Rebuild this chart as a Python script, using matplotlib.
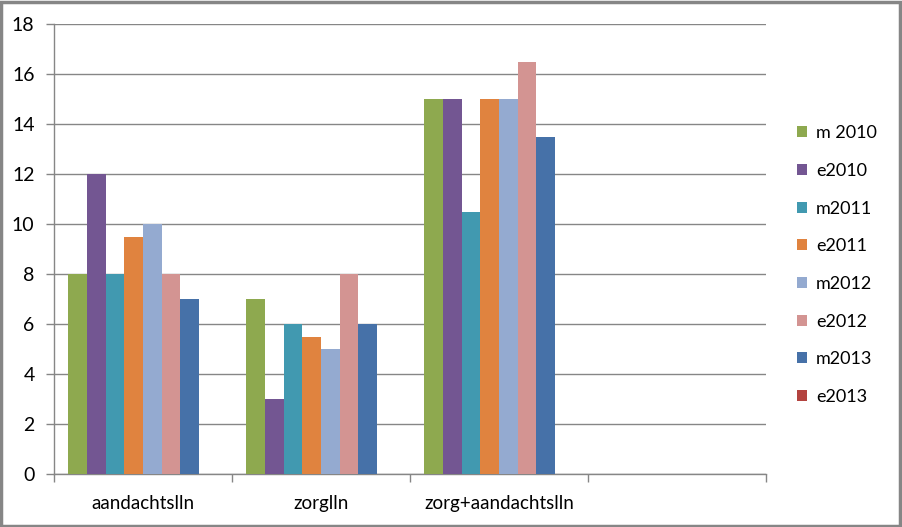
import matplotlib
matplotlib.use("Agg")
import matplotlib.pyplot as plt
import numpy as np
from matplotlib.patches import Rectangle

# categories (the fourth one is empty in the source chart)
categories = ["aandachtslln", "zorglln", "zorg+aandachtslln", ""]
series = ["m 2010", "e2010", "m2011", "e2011", "m2012", "e2012", "m2013", "e2013"]
colors = ["#8EA94F", "#735692", "#4199B0", "#E0833F", "#94AAD0", "#D39492", "#4671A8", "#B3433F"]

m2010 = [8, 7, 15, 0]
e2010 = [12, 3, 15, 0]
m2011 = [8, 6, 10.5, 0]
e2011 = [9.5, 5.5, 15, 0]
m2012 = [10, 5, 15, 0]
e2012 = [8, 8, 16.5, 0]
m2013 = [7, 6, 13.5, 0]
e2013 = [0, 0, 0, 0]
values = [m2010, e2010, m2011, e2011, m2012, e2012, m2013, e2013]

plt.rcParams["font.family"] = ["Lato", "DejaVu Sans"]
grey = "#868686"

fig = plt.figure(figsize=(9.02, 5.27), dpi=100)
ax = fig.add_axes([54 / 902, 1 - 474 / 527, (766 - 54) / 902, (474 - 24) / 527])

x = np.arange(len(categories))
n = len(series)
w = 1 / (n + 1.5)
for i, (name, vals, col) in enumerate(zip(series, values, colors)):
    ax.bar(x - n * w / 2 + (i + 0.5) * w, vals, width=w, color=col, label=name, zorder=3)

ax.set_xlim(-0.5, len(categories) - 0.5)
ax.set_ylim(0, 18)
ax.set_yticks(range(0, 19, 2))
ax.yaxis.grid(True, color=grey, linewidth=1, zorder=0)

ax.set_xticks(x)
ax.set_xticklabels(categories)
ax.set_xticks(np.arange(-0.5, len(categories)), minor=True)
ax.tick_params(axis="x", which="major", length=0, pad=15, labelsize=13.5)
ax.tick_params(axis="x", which="minor", length=6, color=grey, width=1)
ax.tick_params(axis="y", length=6, color=grey, width=1, labelsize=14, pad=8)

for side in ["top", "right"]:
    ax.spines[side].set_visible(False)
for side in ["left", "bottom"]:
    ax.spines[side].set_color(grey)
    ax.spines[side].set_linewidth(1)

leg = fig.legend(loc="upper left", bbox_to_anchor=(790 / 902, 1 - 118 / 527),
                 frameon=False, fontsize=13, handlelength=0.55, handleheight=0.55,
                 handletextpad=0.5, labelspacing=1.2, borderaxespad=0)

# border round the whole picture
fig.patches.append(Rectangle((0.001, 0.002), 0.997, 0.995, transform=fig.transFigure,
                             fill=False, edgecolor=grey, linewidth=2.5))

fig.savefig("out.png", dpi=100)
